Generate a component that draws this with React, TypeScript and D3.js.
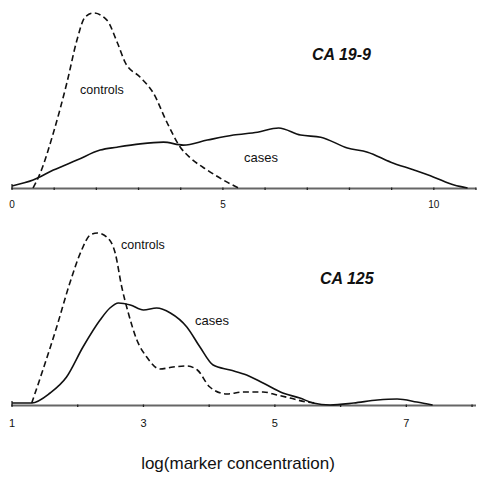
import React from "react";
import * as d3 from "d3";

// CA 19-9 panel (x: log concentration, y: estimated density)
const caX1 = [0.5, 0.67, 0.98, 1.3, 1.54, 1.73, 1.93, 2.25, 2.5, 2.69, 3.04, 3.35, 3.68, 3.99, 4.23, 4.63, 5.1, 5.37];
const caCtrl1 = [0, 0.036, 0.132, 0.252, 0.355, 0.41, 0.42, 0.403, 0.348, 0.3, 0.266, 0.228, 0.156, 0.098, 0.072, 0.043, 0.014, 0];
const caXc1 = [0, 0.5, 0.98, 1.54, 2.09, 2.49, 3.04, 3.59, 4.06, 4.63, 5.25, 5.82, 6.32, 6.84, 7.32, 7.95, 8.43, 8.98, 9.53, 10, 10.48, 10.8];
const caCase1 = [0.005, 0.019, 0.043, 0.067, 0.091, 0.098, 0.106, 0.11, 0.103, 0.115, 0.127, 0.134, 0.144, 0.127, 0.122, 0.096, 0.086, 0.062, 0.043, 0.026, 0.007, 0];
const ticks1 = [0, 1, 2, 3, 4, 5, 6, 7, 8, 9, 10, 11];
const labels1 = [0, 5, 10];

// CA 125 panel
const caX2 = [1.3, 1.47, 1.68, 1.88, 2.06, 2.19, 2.3, 2.44, 2.57, 2.67, 2.77, 2.9, 3.05, 3.25, 3.45, 3.66, 3.82, 4.01, 4.27, 4.52, 4.82, 5.03, 5.23, 5.48, 5.63];
const caCtrl2 = [0.01, 0.175, 0.39, 0.61, 0.775, 0.85, 0.86, 0.84, 0.76, 0.59, 0.46, 0.325, 0.24, 0.18, 0.19, 0.195, 0.175, 0.09, 0.055, 0.065, 0.065, 0.05, 0.035, 0.015, 0.01];
const caXc2 = [1, 1.3, 1.58, 1.83, 2.08, 2.34, 2.49, 2.62, 2.8, 3.0, 3.2, 3.41, 3.66, 3.86, 4.06, 4.32, 4.57, 4.82, 5.12, 5.38, 5.58, 5.84, 6.2, 6.56, 6.86, 7.16, 7.4];
const caCase2 = [0.01, 0.01, 0.06, 0.14, 0.29, 0.425, 0.485, 0.51, 0.5, 0.475, 0.485, 0.46, 0.39, 0.29, 0.2, 0.175, 0.15, 0.11, 0.06, 0.035, 0.01, 0, 0.01, 0.025, 0.03, 0.015, 0];
const ticks2 = [1, 2, 3, 4, 5, 6, 7, 8];
const labels2 = [1, 3, 5, 7];

const FONT = "'Liberation Sans', Arial, Helvetica, sans-serif";

type PanelProps = {
  xDomain: [number, number];
  yMax: number;
  top: number;
  base: number;
  ctrlX: number[];
  ctrlY: number[];
  caseX: number[];
  caseY: number[];
  ticks: number[];
  labels: number[];
  labelBaseline: number;
  labelSize: number;
  title: string;
  titlePos: [number, number];
  ctrlPos: [number, number];
  casePos: [number, number];
};

function Panel(p: PanelProps) {
  const x = d3.scaleLinear().domain(p.xDomain).range([12, 476]);
  const y = d3.scaleLinear().domain([0, p.yMax]).range([p.base, p.top]);
  const line = d3
    .line<[number, number]>()
    .x((d) => x(d[0]))
    .y((d) => Math.min(p.base, y(d[1])))
    .curve(d3.curveMonotoneX);
  const ctrl = p.ctrlX.map((v, i) => [v, p.ctrlY[i]] as [number, number]);
  const cases = p.caseX.map((v, i) => [v, p.caseY[i]] as [number, number]);
  return (
    <g>
      <line x1={x.range()[0]} x2={x.range()[1]} y1={p.base + 0.5} y2={p.base + 0.5} stroke="#666" strokeWidth={2} />
      {p.ticks.map((t) => (
        <line key={t} x1={x(t)} x2={x(t)} y1={p.base - 0.5} y2={p.base + 2} stroke="#222" strokeWidth={1.3} />
      ))}
      <line x1={x(p.xDomain[0])} x2={x(p.xDomain[0])} y1={p.base - 4} y2={p.base + 1} stroke="#222" strokeWidth={1.3} />
      {p.labels.map((t) => (
        <text key={t} x={x(t)} y={p.labelBaseline} fontSize={p.labelSize} fontFamily={FONT} textAnchor="middle" fill="#111">
          {t}
        </text>
      ))}
      <path d={line(cases) || ""} fill="none" stroke="#111" strokeWidth={1.6} />
      <path d={line(ctrl) || ""} fill="none" stroke="#111" strokeWidth={1.6} strokeDasharray="6,3.5" />
      <text x={p.titlePos[0]} y={p.titlePos[1]} fontSize={16} fontWeight="bold" fontStyle="italic" fontFamily={FONT} fill="#111">
        {p.title}
      </text>
      <text x={p.ctrlPos[0]} y={p.ctrlPos[1]} fontSize={12.5} fontFamily={FONT} fill="#111">
        controls
      </text>
      <text x={p.casePos[0]} y={p.casePos[1]} fontSize={13} fontFamily={FONT} fill="#111">
        cases
      </text>
    </g>
  );
}

export default function App() {
  return (
    <svg width={477} height={477} style={{ position: "absolute", left: 0, top: 0, background: "#fff" }}>
      <rect width={477} height={477} fill="#fff" />
      <Panel
        xDomain={[0, 11]}
        yMax={0.42}
        top={13}
        base={188}
        ctrlX={caX1}
        ctrlY={caCtrl1}
        caseX={caXc1}
        caseY={caCase1}
        ticks={ticks1}
        labels={labels1}
        labelBaseline={208}
        labelSize={10}
        title="CA 19-9"
        titlePos={[312, 60]}
        ctrlPos={[80, 94]}
        casePos={[244, 162]}
      />
      <Panel
        xDomain={[1, 8.06]}
        yMax={0.86}
        top={233}
        base={405}
        ctrlX={caX2}
        ctrlY={caCtrl2}
        caseX={caXc2}
        caseY={caCase2}
        ticks={ticks2}
        labels={labels2}
        labelBaseline={427}
        labelSize={11}
        title="CA 125"
        titlePos={[320, 284]}
        ctrlPos={[121, 249]}
        casePos={[195, 325]}
      />
      <text x={238} y={469} fontSize={17} fontFamily={FONT} textAnchor="middle" fill="#111">
        log(marker concentration)
      </text>
    </svg>
  );
}
